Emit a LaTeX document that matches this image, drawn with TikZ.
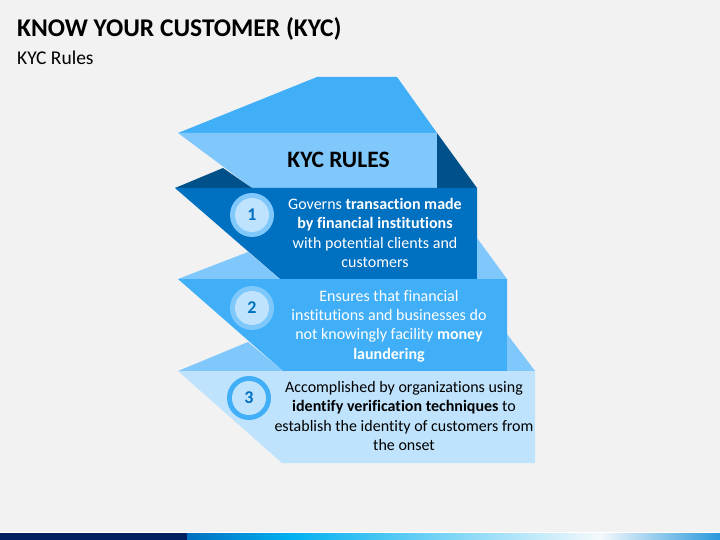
\documentclass[tikz,border=0pt]{standalone}
\usepackage{fontspec}
\setmainfont{Carlito}[Ligatures=NoCommon]
\usetikzlibrary{positioning}

\definecolor{pagebg}{HTML}{F2F2F2}
\definecolor{kycnavy}{HTML}{00508A}
\definecolor{kycdark}{HTML}{0070C0}
\definecolor{kycmid}{HTML}{41AEF8}
\definecolor{kyclight}{HTML}{80C8FC}
\definecolor{kycpale}{HTML}{BFE3FD}
\definecolor{barnavy}{HTML}{002060}
\definecolor{barcyan}{HTML}{00B0F0}
\definecolor{barwhite}{HTML}{F4F9FC}
\definecolor{barend}{HTML}{2A98DC}

\begin{document}
\begin{tikzpicture}[
    x=1pt, y=-1pt,
    numring/.style={circle, minimum size=44pt, inner sep=0pt},
    numdisc/.style={circle, minimum size=34pt, inner sep=0pt, fill=kycpale,
        font=\fontsize{18}{18}\selectfont\bfseries, text=kycdark},
    body/.style={align=center, font=\fontsize{16}{19.3}\selectfont},
    heading/.style={anchor=base west, font=\fontsize{25.5}{25.5}\selectfont\bfseries}
]

    % Page background (fixes the bounding box)
    \fill[pagebg] (0,0) rectangle (720,540);

    % Title
    \node[heading, inner sep=0pt] (title) at (17,37) {KNOW YOUR CUSTOMER (KYC)};
    \node[anchor=base west, inner sep=0pt, font=\fontsize{19.5}{19.5}\selectfont] (subtitle) at (17,65) {KYC Rules};

    % --- Header fold ---
    \fill[kycmid] (317,77) -- (397,77) -- (437,133) -- (178,133) -- cycle;
    \fill[kyclight] (178,133) -- (437,133) -- (437,188) -- (252,188) -- cycle;
    \fill[kycnavy] (223,168) -- (252,188) -- (175,188) -- cycle;
    \fill[kycnavy] (437,133) -- (477,188) -- (437,188) -- cycle;
    \node[font=\fontsize{23.5}{23.5}\selectfont\bfseries] (head) at (338.5,160) {KYC RULES};

    % --- Band 1 ---
    \fill[kycdark] (175,188) -- (477,188) -- (477,279) -- (280,279) -- cycle;
    \fill[kyclight] (248,252) -- (280,279) -- (178,279) -- cycle;
    \fill[kyclight] (477,238) -- (507,279) -- (477,279) -- cycle;

    % --- Band 2 ---
    \fill[kycmid] (178,279) -- (507,279) -- (507,371) -- (283,371) -- cycle;
    \fill[kyclight] (248,342) -- (283,371) -- (178,371) -- cycle;
    \fill[kyclight] (507,334) -- (535,371) -- (507,371) -- cycle;

    % --- Band 3 ---
    \fill[kycpale] (178,371) -- (535,371) -- (535,463) -- (282,463) -- cycle;

    % Number badges
    \node[numring, fill=kyclight] (ring1) at (252,215) {};
    \node[numdisc] (num1) at (ring1) {1};
    \node[numring, fill=kyclight] (ring2) at (252,308) {};
    \node[numdisc] (num2) at (ring2) {2};
    \node[numring, fill=kycmid] (ring3) at (249,398) {};
    \node[numdisc] (num3) at (ring3) {3};

    % Rule texts
    \node[body, text=white] (rule1) at (375,233)
        {Governs \textbf{transaction made}\\\textbf{by financial institutions}\\with potential clients and\\customers};
    \node[body, text=white] (rule2) at (389,326)
        {Ensures that financial\\institutions and businesses do\\not knowingly facility \textbf{money}\\\textbf{laundering}};
    \node[body, text=black] (rule3) at (404,416)
        {Accomplished by organizations using\\\textbf{identify verification techniques} to\\establish the identity of customers from\\the onset};

    % --- Bottom bar ---
    \fill[white] (0,532) rectangle (720,533);
    \fill[barnavy] (0,533) rectangle (187,540);
    \shade[left color=kycdark, right color=barcyan] (187,533) rectangle (290,540);
    \shade[left color=barcyan, right color=barwhite] (290,533) rectangle (600,540);
    \shade[left color=barwhite, right color=barend] (600,533) rectangle (720,540);

\end{tikzpicture}
\end{document}
